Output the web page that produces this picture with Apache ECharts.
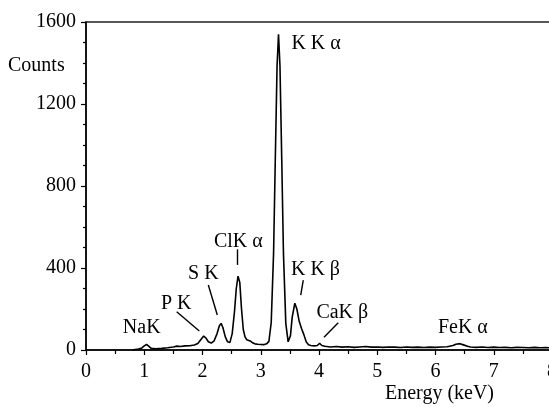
<!DOCTYPE html>
<html>
<head>
<meta charset="utf-8">
<script src="https://cdn.jsdelivr.net/npm/echarts@6/dist/echarts.min.js"></script>
<style>
  html, body { margin: 0; padding: 0; background: #fff; }
  #chart { width: 549px; height: 407px; }
</style>
</head>
<body>
<div id="chart"></div>
<script>
// EDS spectrum: energy (keV) and detector counts
const energyKeV = [
  0.80, 0.84, 0.90, 0.96, 1.00, 1.04, 1.08, 1.12, 1.20, 1.30, 1.40, 1.50, 1.56, 1.62, 1.70, 1.78, 1.86, 1.92, 1.97, 2.02,
  2.06, 2.10, 2.15, 2.20, 2.25, 2.29, 2.32, 2.35, 2.39, 2.43, 2.47, 2.51, 2.55, 2.58, 2.61, 2.64, 2.67, 2.70, 2.73, 2.76,
  2.79, 2.82, 2.86, 2.90, 2.95, 3.00, 3.05, 3.10, 3.14, 3.18, 3.22, 3.25, 3.28, 3.305, 3.33, 3.36, 3.39, 3.43, 3.47, 3.51,
  3.54, 3.585, 3.62, 3.66, 3.70, 3.74, 3.78, 3.82, 3.86, 3.92, 3.97, 4.01, 4.05, 4.10, 4.20, 4.30, 4.40, 4.50, 4.60, 4.70,
  4.80, 4.90, 5.00, 5.10, 5.20, 5.30, 5.40, 5.50, 5.60, 5.70, 5.80, 5.90, 6.00, 6.10, 6.20, 6.30, 6.35, 6.42, 6.48, 6.55,
  6.60, 6.70, 6.80, 6.90, 7.00, 7.10, 7.20, 7.30, 7.40, 7.50, 7.60, 7.70, 7.80, 7.90, 8.00
];
const counts = [
  0, 2, 5, 10, 20, 27, 18, 8, 6, 8, 11, 15, 19, 17, 20, 21, 24, 32, 50, 68,
  58, 40, 34, 45, 80, 118, 130, 110, 65, 40, 36, 80, 190, 300, 360, 330, 200, 100, 64, 50,
  54, 44, 35, 30, 28, 27, 26, 30, 42, 135, 470, 935, 1385, 1540, 1385, 935, 470, 130, 40, 70,
  160, 228, 200, 140, 105, 75, 40, 26, 22, 20, 22, 32, 22, 18, 15, 17, 14, 16, 13, 15,
  17, 14, 15, 13, 15, 14, 12, 15, 13, 14, 12, 14, 13, 15, 16, 22, 28, 31, 25, 18,
  15, 13, 15, 12, 14, 12, 13, 11, 13, 12, 11, 13, 11, 12, 10
];

// Axis ranges and tick steps
const xRange = [0, 8];
const xStep = 1;
const yRange = [0, 1600];
const yStep = 400;

// Peak identifications (text only)
const peakNames = ['K K α', 'ClK α', 'S K', 'P K', 'NaK', 'K K β', 'CaK β', 'FeK α'];

// Annotation anchors in data space [keV, counts]
const labelAnchors = [
  [3.95, 1495], [2.615, 528], [2.014, 371], [1.548, 228],
  [0.956, 109], [3.94, 390], [4.40, 182], [6.47, 109]
];
const leaderLines = [
  [[2.60, 491], [2.60, 415]],
  [[2.10, 317], [2.254, 171]],
  [[1.557, 187], [1.945, 93]],
  [[3.73, 341], [3.686, 268]],
  [[4.33, 133], [4.086, 62]]
];

const FONT = 'Liberation Serif';
const chart = echarts.init(document.getElementById('chart'), null, { renderer: 'canvas' });

chart.setOption({
  animation: false,
  backgroundColor: '#ffffff',
  textStyle: { fontFamily: FONT, color: '#000' },
  grid: {
    left: 86, top: 22, right: -3, bottom: 57,
    outerBoundsMode: 'none',
    containLabel: false,
    show: true, borderColor: '#222', borderWidth: 1.5, backgroundColor: 'transparent'
  },
  xAxis: {
    type: 'value', min: xRange[0], max: xRange[1], interval: xStep,
    axisLine: { show: true, onZero: false, lineStyle: { color: '#000', width: 1.5 } },
    axisTick: { show: true, length: 5, lineStyle: { color: '#000', width: 1.2 } },
    minorTick: { show: true, splitNumber: 2, length: 4, lineStyle: { color: '#000', width: 1.2 } },
    splitLine: { show: false },
    axisLabel: { margin: 12, fontFamily: FONT, fontSize: 20, color: '#000', showMaxLabel: true,
                 formatter: (v) => String(v) }
  },
  yAxis: {
    type: 'value', min: yRange[0], max: yRange[1], interval: yStep,
    axisLine: { show: true, lineStyle: { color: '#000', width: 1.5 } },
    axisTick: { show: true, length: 5, lineStyle: { color: '#000', width: 1.2 } },
    minorTick: { show: true, splitNumber: 4, length: 3, lineStyle: { color: '#000', width: 1.2 } },
    splitLine: { show: false },
    axisLabel: { margin: 10, fontFamily: FONT, fontSize: 20, color: '#000',
                 formatter: (v) => String(v) }
  },
  graphic: [
    { type: 'text', left: 8, top: 56, style: { text: 'Counts', font: '20px "Liberation Serif"', fill: '#000' } },
    { type: 'text', left: 385, top: 384, style: { text: 'Energy (keV)', font: '20px "Liberation Serif"', fill: '#000' } }
  ],
  series: [
    {
      name: 'spectrum',
      type: 'line',
      data: energyKeV.map((e, i) => [e, counts[i]]),
      symbol: 'none',
      lineStyle: { color: '#000', width: 1.6 },
      markLine: {
        silent: true,
        symbol: ['none', 'none'],
        label: { show: false },
        lineStyle: { color: '#000', width: 1.4, type: 'solid', opacity: 1 },
        data: leaderLines.map(([a, b]) => [{ coord: a }, { coord: b }])
      },
      z: 3
    },
    {
      name: 'peaks',
      type: 'scatter',
      symbolSize: 0,
      itemStyle: { opacity: 1, color: '#000' },
      data: labelAnchors.map((p, i) => ({ value: p, name: peakNames[i] })),
      label: {
        show: true,
        position: 'inside',
        formatter: (p) => p.name,
        fontFamily: FONT,
        fontSize: 20,
        color: '#000',
        opacity: 1,
        textBorderWidth: 0,
        textBorderColor: 'transparent'
      },
      z: 4
    }
  ]
});
</script>
</body>
</html>
